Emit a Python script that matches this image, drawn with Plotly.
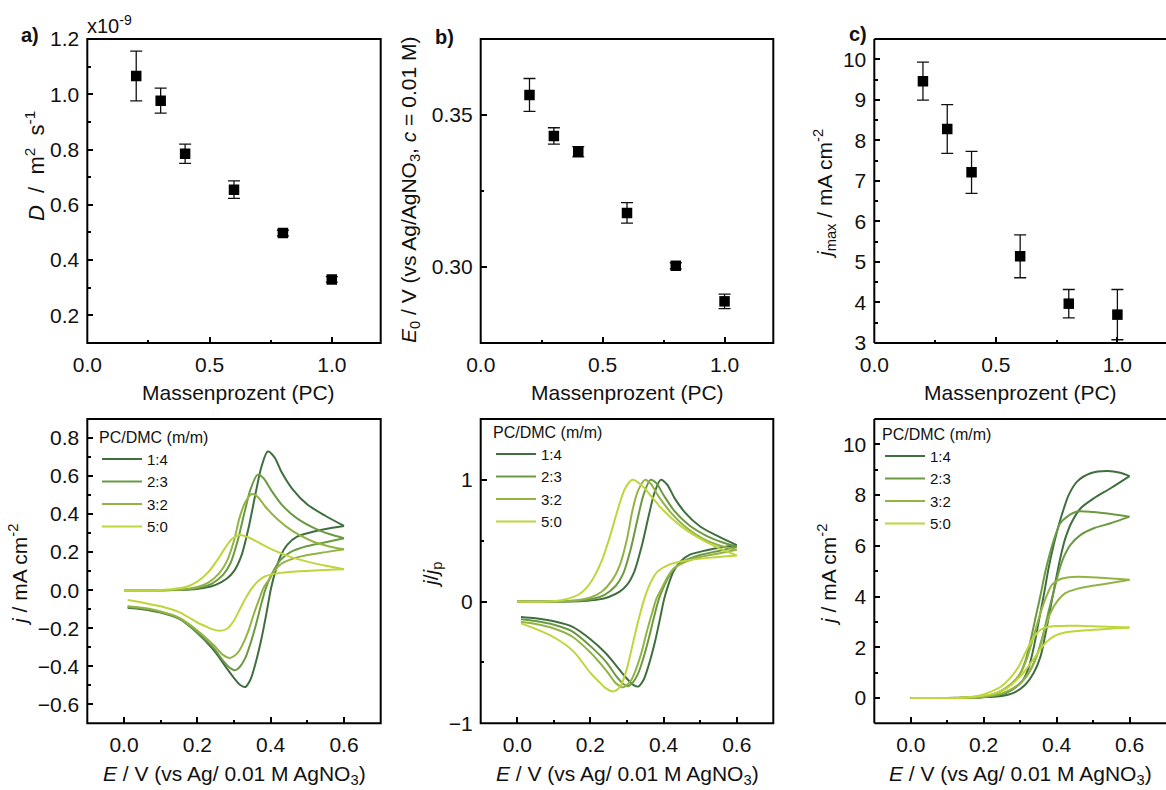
import plotly.graph_objects as go

W, H = 1166, 790
FONT = "Liberation Sans, Arial, Helvetica, sans-serif"

# ---------------- top row: values vs. PC mass fraction ----------------
PC_FRACTION = [0.2, 0.3, 0.4, 0.6, 0.8, 1.0]
DIFF_COEFF = [1.066, 0.977, 0.785, 0.655, 0.498, 0.330]        # x1e-9 m2 s-1
DIFF_COEFF_ERR = [0.090, 0.045, 0.035, 0.032, 0.010, 0.010]
E0_VALUES = [0.3566, 0.3431, 0.3379, 0.3178, 0.3004, 0.2887]     # V
E0_ERR = [0.0054, 0.0027, 0.0017, 0.0034, 0.0010, 0.0024]
JMAX_VALUES = [9.46, 8.28, 7.21, 5.14, 3.97, 3.70]               # mA cm-2
JMAX_ERR = [0.47, 0.60, 0.52, 0.53, 0.35, 0.62]

# ---------------- bottom row: cyclic voltammograms ----------------
RATIOS = ["1:4", "2:3", "3:2", "5:0"]
COLORS = ["#3f6e3f", "#6c9a42", "#93b345", "#bfd53b"]

# a) j / mA cm-2, forward and reverse scans
CV_E_FWD_14 = [0.00, 0.10, 0.18, 0.22, 0.25, 0.28, 0.30, 0.32, 0.34, 0.36, 0.375, 0.392, 0.41, 0.43, 0.46, 0.50, 0.55, 0.60]
CV_J_FWD_14 = [0.000, 0.000, 0.003, 0.012, 0.028, 0.060, 0.100, 0.180, 0.330, 0.520, 0.650, 0.729, 0.700, 0.620, 0.530, 0.450, 0.390, 0.338]
CV_E_REV_14 = [0.60, 0.55, 0.518, 0.472, 0.445, 0.427, 0.413, 0.401, 0.390, 0.376, 0.358, 0.345, 0.331, 0.318, 0.300, 0.280, 0.260, 0.240, 0.200, 0.150, 0.100, 0.050, 0.010]
CV_J_REV_14 = [0.338, 0.322, 0.308, 0.281, 0.238, 0.180, 0.100, 0.010, -0.105, -0.245, -0.390, -0.470, -0.509, -0.500, -0.462, -0.410, -0.355, -0.305, -0.225, -0.150, -0.118, -0.100, -0.092]

CV_E_FWD_23 = [0.00, 0.10, 0.17, 0.21, 0.24, 0.27, 0.29, 0.31, 0.33, 0.345, 0.364, 0.38, 0.40, 0.43, 0.47, 0.52, 0.56, 0.60]
CV_J_FWD_23 = [0.000, 0.000, 0.004, 0.015, 0.035, 0.080, 0.140, 0.260, 0.420, 0.530, 0.606, 0.590, 0.530, 0.450, 0.380, 0.325, 0.295, 0.273]
CV_E_REV_23 = [0.60, 0.55, 0.50, 0.454, 0.427, 0.41, 0.395, 0.385, 0.372, 0.36, 0.345, 0.33, 0.315, 0.303, 0.29, 0.27, 0.245, 0.20, 0.15, 0.10, 0.05, 0.01]
CV_J_REV_23 = [0.273, 0.252, 0.232, 0.200, 0.160, 0.110, 0.050, 0.000, -0.090, -0.180, -0.280, -0.360, -0.405, -0.421, -0.410, -0.370, -0.305, -0.222, -0.148, -0.115, -0.097, -0.088]

CV_E_FWD_32 = [0.00, 0.10, 0.16, 0.20, 0.23, 0.26, 0.28, 0.30, 0.315, 0.33, 0.349, 0.365, 0.385, 0.42, 0.46, 0.51, 0.56, 0.60]
CV_J_FWD_32 = [0.000, 0.000, 0.005, 0.017, 0.040, 0.090, 0.150, 0.260, 0.380, 0.460, 0.506, 0.490, 0.440, 0.370, 0.310, 0.260, 0.230, 0.215]
CV_E_REV_32 = [0.60, 0.55, 0.50, 0.46, 0.43, 0.41, 0.395, 0.38, 0.37, 0.355, 0.34, 0.325, 0.31, 0.289, 0.27, 0.245, 0.20, 0.15, 0.10, 0.05, 0.01]
CV_J_REV_32 = [0.215, 0.200, 0.185, 0.165, 0.140, 0.100, 0.055, 0.010, -0.040, -0.120, -0.210, -0.280, -0.330, -0.356, -0.340, -0.290, -0.212, -0.145, -0.112, -0.093, -0.085]

CV_E_FWD_50 = [0.00, 0.08, 0.13, 0.17, 0.20, 0.23, 0.255, 0.275, 0.295, 0.315, 0.34, 0.37, 0.40, 0.45, 0.50, 0.55, 0.60]
CV_J_FWD_50 = [0.000, 0.000, 0.005, 0.018, 0.045, 0.095, 0.160, 0.220, 0.270, 0.290, 0.277, 0.247, 0.217, 0.178, 0.150, 0.128, 0.110]
CV_E_REV_50 = [0.60, 0.52, 0.45, 0.412, 0.384, 0.366, 0.348, 0.334, 0.317, 0.299, 0.281, 0.261, 0.240, 0.226, 0.200, 0.153, 0.100, 0.050, 0.010]
CV_J_REV_50 = [0.110, 0.104, 0.096, 0.087, 0.072, 0.048, 0.008, -0.035, -0.096, -0.162, -0.203, -0.214, -0.205, -0.193, -0.170, -0.118, -0.085, -0.065, -0.052]

# b) j/jp, same potentials as in a)
NORM_FWD_14 = [0.000, 0.000, 0.004, 0.016, 0.038, 0.082, 0.137, 0.247, 0.453, 0.713, 0.892, 1.000, 0.960, 0.850, 0.727, 0.617, 0.535, 0.464]
NORM_REV_14 = [0.464, 0.442, 0.422, 0.385, 0.326, 0.247, 0.137, 0.014, -0.144, -0.336, -0.535, -0.645, -0.698, -0.686, -0.634, -0.562, -0.487, -0.418, -0.309, -0.206, -0.162, -0.137, -0.126]
NORM_FWD_23 = [0.000, 0.000, 0.007, 0.025, 0.058, 0.132, 0.231, 0.429, 0.693, 0.875, 1.000, 0.974, 0.875, 0.743, 0.627, 0.536, 0.487, 0.450]
NORM_REV_23 = [0.450, 0.416, 0.383, 0.330, 0.264, 0.182, 0.083, 0.000, -0.149, -0.297, -0.462, -0.594, -0.668, -0.695, -0.677, -0.611, -0.503, -0.366, -0.244, -0.190, -0.160, -0.145]
NORM_FWD_32 = [0.000, 0.000, 0.010, 0.034, 0.079, 0.178, 0.296, 0.514, 0.751, 0.909, 1.000, 0.968, 0.870, 0.731, 0.613, 0.514, 0.455, 0.425]
NORM_REV_32 = [0.425, 0.395, 0.366, 0.326, 0.277, 0.198, 0.109, 0.020, -0.079, -0.237, -0.415, -0.553, -0.652, -0.704, -0.672, -0.573, -0.419, -0.287, -0.221, -0.184, -0.168]
NORM_FWD_50 = [0.000, 0.000, 0.017, 0.062, 0.155, 0.328, 0.552, 0.759, 0.931, 1.000, 0.955, 0.852, 0.748, 0.614, 0.517, 0.441, 0.379]
NORM_REV_50 = [0.379, 0.359, 0.331, 0.300, 0.248, 0.166, 0.028, -0.121, -0.331, -0.559, -0.700, -0.738, -0.707, -0.666, -0.586, -0.407, -0.293, -0.224, -0.179]

# c) j / mA cm-2, upper (A) and lower (B) branches of each loop
LOOP_E_A_14 = [0.00, 0.10, 0.15, 0.20, 0.246, 0.278, 0.305, 0.323, 0.337, 0.351, 0.365, 0.378, 0.392, 0.406, 0.420, 0.433, 0.456, 0.493, 0.539, 0.575, 0.600]
LOOP_J_A_14 = [0.00, 0.00, 0.01, 0.04, 0.13, 0.33, 0.65, 1.18, 1.97, 3.02, 4.07, 5.12, 6.04, 6.82, 7.48, 8.00, 8.53, 8.86, 8.95, 8.88, 8.75]
LOOP_E_B_14 = [0.600, 0.548, 0.502, 0.466, 0.442, 0.424, 0.410, 0.397, 0.383, 0.369, 0.356, 0.337, 0.314, 0.282, 0.250, 0.200, 0.150, 0.100, 0.000]
LOOP_J_B_14 = [8.75, 8.27, 7.87, 7.48, 6.95, 6.30, 5.51, 4.59, 3.54, 2.49, 1.64, 0.98, 0.52, 0.20, 0.08, 0.03, 0.01, 0.00, 0.00]

LOOP_E_A_23 = [0.00, 0.10, 0.15, 0.20, 0.236, 0.268, 0.296, 0.314, 0.328, 0.342, 0.356, 0.369, 0.383, 0.397, 0.410, 0.429, 0.456, 0.500, 0.550, 0.600]
LOOP_J_A_23 = [0.00, 0.00, 0.01, 0.05, 0.20, 0.46, 0.85, 1.44, 2.23, 3.15, 4.07, 4.98, 5.77, 6.43, 6.89, 7.15, 7.35, 7.33, 7.25, 7.15]
LOOP_E_B_23 = [0.600, 0.548, 0.502, 0.466, 0.438, 0.420, 0.406, 0.392, 0.378, 0.365, 0.351, 0.333, 0.310, 0.278, 0.250, 0.200, 0.150, 0.100, 0.000]
LOOP_J_B_23 = [7.15, 6.89, 6.69, 6.43, 6.04, 5.57, 4.98, 4.20, 3.41, 2.62, 1.90, 1.24, 0.72, 0.33, 0.15, 0.04, 0.01, 0.00, 0.00]

LOOP_E_A_32 = [0.00, 0.10, 0.15, 0.20, 0.246, 0.278, 0.301, 0.319, 0.333, 0.346, 0.360, 0.374, 0.387, 0.406, 0.429, 0.460, 0.520, 0.600]
LOOP_J_A_32 = [0.00, 0.00, 0.01, 0.06, 0.26, 0.59, 0.98, 1.57, 2.23, 2.89, 3.54, 4.07, 4.46, 4.66, 4.75, 4.78, 4.74, 4.66]
LOOP_E_B_32 = [0.600, 0.548, 0.502, 0.456, 0.424, 0.401, 0.383, 0.369, 0.356, 0.342, 0.323, 0.301, 0.268, 0.240, 0.200, 0.150, 0.100, 0.000]
LOOP_J_B_32 = [4.66, 4.53, 4.43, 4.30, 4.13, 3.80, 3.35, 2.76, 2.10, 1.51, 0.98, 0.59, 0.29, 0.14, 0.05, 0.01, 0.00, 0.00]

LOOP_E_A_50 = [0.00, 0.10, 0.15, 0.19, 0.225, 0.246, 0.273, 0.296, 0.314, 0.328, 0.342, 0.356, 0.374, 0.400, 0.456, 0.520, 0.600]
LOOP_J_A_50 = [0.00, 0.00, 0.02, 0.10, 0.28, 0.43, 0.79, 1.24, 1.77, 2.17, 2.49, 2.69, 2.80, 2.84, 2.85, 2.82, 2.78]
LOOP_E_B_50 = [0.600, 0.502, 0.429, 0.392, 0.365, 0.342, 0.319, 0.296, 0.264, 0.230, 0.190, 0.150, 0.100, 0.000]
LOOP_J_B_50 = [2.78, 2.69, 2.60, 2.43, 2.10, 1.64, 1.18, 0.79, 0.39, 0.18, 0.07, 0.02, 0.00, 0.00]

CV_E_SETS = [(CV_E_FWD_14, CV_E_REV_14), (CV_E_FWD_23, CV_E_REV_23),
             (CV_E_FWD_32, CV_E_REV_32), (CV_E_FWD_50, CV_E_REV_50)]
CV_J_SETS = [(CV_J_FWD_14, CV_J_REV_14), (CV_J_FWD_23, CV_J_REV_23),
             (CV_J_FWD_32, CV_J_REV_32), (CV_J_FWD_50, CV_J_REV_50)]
NORM_SETS = [(NORM_FWD_14, NORM_REV_14), (NORM_FWD_23, NORM_REV_23),
             (NORM_FWD_32, NORM_REV_32), (NORM_FWD_50, NORM_REV_50)]
LOOP_E_SETS = [(LOOP_E_A_14, LOOP_E_B_14), (LOOP_E_A_23, LOOP_E_B_23),
               (LOOP_E_A_32, LOOP_E_B_32), (LOOP_E_A_50, LOOP_E_B_50)]
LOOP_J_SETS = [(LOOP_J_A_14, LOOP_J_B_14), (LOOP_J_A_23, LOOP_J_B_23),
               (LOOP_J_A_32, LOOP_J_B_32), (LOOP_J_A_50, LOOP_J_B_50)]


def px_x(p):
    return p / W


def px_y(p):
    return 1 - p / H


def joined(first, second):
    # two branches as one trace; the gap keeps the sharp vertex at the turning point
    return list(first) + [None] + list(second)


fig = go.Figure()

# ---- top row markers with error bars ----
for k, (vals, errs) in enumerate([(DIFF_COEFF, DIFF_COEFF_ERR), (E0_VALUES, E0_ERR),
                                  (JMAX_VALUES, JMAX_ERR)], start=1):
    fig.add_trace(go.Scatter(
        x=PC_FRACTION, y=vals, mode="markers",
        marker=dict(symbol="square", size=10.5, color="black"),
        error_y=dict(type="data", array=errs, visible=True, thickness=1.3, width=6, color="#111"),
        xaxis=f"x{'' if k == 1 else k}", yaxis=f"y{'' if k == 1 else k}",
        showlegend=False,
    ))

# ---- bottom row voltammograms ----
legend_ids = ["legend", "legend2", "legend3"]
for i, name in enumerate(RATIOS):
    panels = [
        (joined(*CV_E_SETS[i]), joined(*CV_J_SETS[i])),
        (joined(*CV_E_SETS[i]), joined(*NORM_SETS[i])),
        (joined(*LOOP_E_SETS[i]), joined(*LOOP_J_SETS[i])),
    ]
    for p, (xs, ys) in enumerate(panels):
        ax = p + 4
        fig.add_trace(go.Scatter(
            x=xs, y=ys, mode="lines", name=name,
            line=dict(color=COLORS[i], width=2, shape="spline", smoothing=0.8),
            connectgaps=False,
            xaxis=f"x{ax}", yaxis=f"y{ax}", legend=legend_ids[p],
        ))

# ---- axes ----
col_x = [(87.3, 380.7), (480.7, 773.3), (874.3, 1166.0)]
row_y = [(39.0, 343.0), (419.0, 723.3)]


def base_axis(rng, dtick, tick0, fmt, minor_dtick, domain, anchor):
    return dict(
        range=rng, dtick=dtick, tick0=tick0, tickformat=fmt, domain=domain, anchor=anchor,
        showline=False, automargin=False,
        ticks="inside", ticklen=6, tickwidth=1.5, tickcolor="black",
        showgrid=False, zeroline=False, ticklabelstandoff=7,
        tickfont=dict(family=FONT, size=21, color="#111"),
        minor=dict(ticks="inside", ticklen=3.5, tickwidth=1.5, tickcolor="black",
                   dtick=minor_dtick, showgrid=False),
    )


y_specs = {
    1: ([0.1, 1.2001], 0.2, 0.2, ".1f", 0.1),
    2: ([0.275, 0.375], 0.05, 0.3, ".2f", 0.025),
    3: ([3, 10.5], 1, 3, "d", 0.5),
    4: ([-0.7, 0.9], 0.2, 0.0, ".1f", 0.1),
    5: ([-1, 1.5], 1, 0, "d", 0.5),
    6: ([-1, 11], 2, 0, "d", 1),
}
layout_axes = {}
frames = []
for k in range(1, 7):
    r = 0 if k <= 3 else 1
    c = (k - 1) % 3
    xd = [px_x(col_x[c][0]), min(1.0, px_x(col_x[c][1]))]
    yd = [px_y(row_y[r][1]), px_y(row_y[r][0])]
    sfx = "" if k == 1 else str(k)
    if r == 0:
        xa = base_axis([-0.0001, 1.2], 0.5, 0, ".1f", 0.25, xd, f"y{sfx}")
    else:
        xa = base_axis([-0.1, 0.7], 0.2, 0, ".1f", 0.1, xd, f"y{sfx}")
    rng, dt, t0, fmt, mdt = y_specs[k]
    ya = base_axis(rng, dt, t0, fmt, mdt, yd, f"x{sfx}")
    layout_axes[f"xaxis{sfx}"] = xa
    layout_axes[f"yaxis{sfx}"] = ya

    # plot frame; the right-hand column runs off the page edge, so no right side
    frame_line = dict(color="black", width=2)
    xr, yr = f"x{sfx} domain", f"y{sfx} domain"
    if c < 2:
        frames.append(dict(type="rect", xref=xr, yref=yr, x0=0, x1=1, y0=0, y1=1,
                           line=frame_line, layer="above"))
    else:
        for (x0, y0, x1, y1) in [(0, 0, 1, 0), (0, 0, 0, 1), (0, 1, 1, 1)]:
            frames.append(dict(type="line", xref=xr, yref=yr, x0=x0, y0=y0, x1=x1, y1=y1,
                               line=frame_line, layer="above"))


# ---- legends ----
def legend_box(x_px, y_px):
    return dict(
        x=px_x(x_px), y=px_y(y_px), xanchor="left", yanchor="top",
        bgcolor="rgba(0,0,0,0)", borderwidth=0, tracegroupgap=0,
        font=dict(family=FONT, size=15, color="#111"),
        title=dict(text="PC/DMC (m/m)", side="top", font=dict(family=FONT, size=16, color="#111")),
        itemwidth=40,
    )


# ---- texts ----
title_font = dict(family=FONT, size=21, color="#111")
annotations = []


def add_text(text, x, y, angle=0, font=title_font, xanchor="center"):
    annotations.append(dict(
        text=text, x=px_x(x), y=px_y(y), xref="paper", yref="paper",
        showarrow=False, textangle=angle, font=font, xanchor=xanchor, yanchor="middle",
    ))


for cx in (238, 628, 1020):
    add_text("Massenprozent (PC)", cx, 392)
for cx in (234, 627, 1020):
    add_text("<i>E</i> / V (vs Ag/ 0.01 M AgNO<sub>3</sub>)", cx, 775)

add_text("<i>D</i>&nbsp; /&nbsp; m<sup>2</sup>&nbsp; s<sup>-1</sup>", 35, 166, angle=-90,
         font=dict(family=FONT, size=22, color="#111"))
add_text("<i>E</i><sub>0</sub> / V (vs Ag/AgNO<sub>3</sub>, <i>c</i> = 0.01 M)", 410, 190, angle=-90)
add_text("<i>j</i><sub>max</sub> / mA cm<sup>-2</sup>", 825, 194, angle=-90)
add_text("<i>j</i> / mA cm<sup>-2</sup>", 18, 575, angle=-90)
add_text("<i>j</i>/<i>j</i><sub>p</sub>", 432, 575, angle=-90)
add_text("<i>j</i> / mA cm<sup>-2</sup>", 827, 575, angle=-90)

bold = dict(family=FONT, size=20, color="#111")
add_text("<b>a)</b>", 30, 35, font=bold)
add_text("<b>b)</b>", 444, 37, font=bold)
add_text("<b>c)</b>", 858, 34, font=bold)
add_text("x10<sup>-9</sup>", 85, 25, font=dict(family=FONT, size=20, color="#111"), xanchor="left")

fig.update_layout(
    width=W, height=H, autosize=False,
    margin=dict(l=0, r=0, t=0, b=0, pad=0, autoexpand=False),
    paper_bgcolor="white", plot_bgcolor="white",
    font=dict(family=FONT, color="#111"),
    legend=legend_box(97, 422),
    legend2=legend_box(491, 417),
    legend3=legend_box(880, 419),
    annotations=annotations,
    shapes=frames,
    **layout_axes,
)

fig.write_html("out.html")
